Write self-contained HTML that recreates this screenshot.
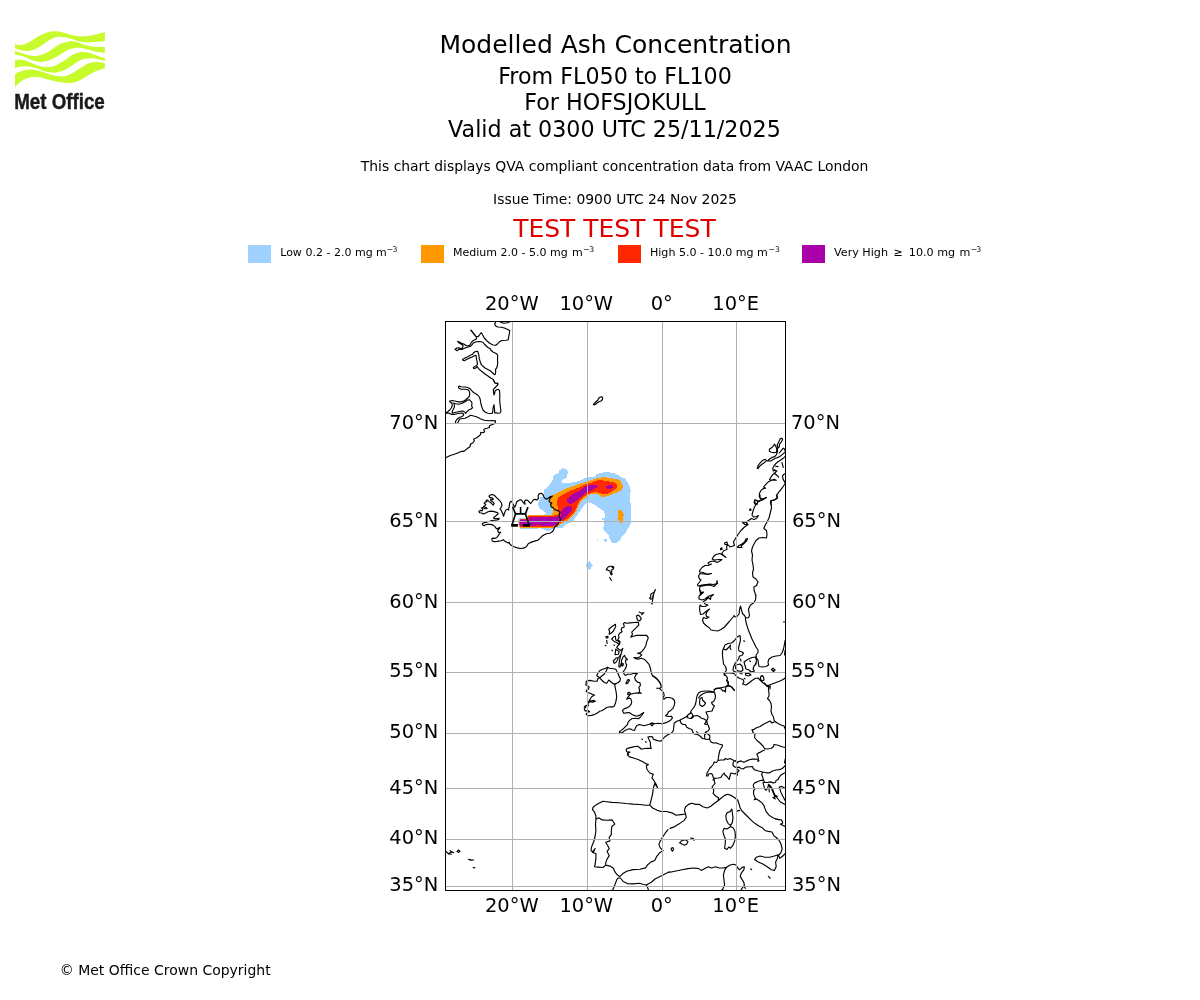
<!DOCTYPE html>
<html><head><meta charset="utf-8"><title>Modelled Ash Concentration</title>
<style>
html,body{margin:0;padding:0;background:#fff;}
body{width:1200px;height:1000px;overflow:hidden;position:relative;font-family:"DejaVu Sans","Liberation Sans",sans-serif;}
svg{position:absolute;left:0;top:0;}
text{font-family:"DejaVu Sans","Liberation Sans",sans-serif;fill:#000;}
.t1{font-size:25px;text-anchor:middle;}
.t2{font-size:22.22px;text-anchor:middle;}
.t3{font-size:13.89px;text-anchor:middle;}
.tk{font-size:19.44px;text-anchor:middle;}
.lg{font-size:11.02px;}
.sup{font-size:7.78px;}
</style></head><body>
<svg width="1200" height="1000" viewBox="0 0 1200 1000">
<!-- LOGO -->
<g id="logo">
<path fill="#c8fb2c" d="M14.98,44.25C16.03,44.39 19.22,45.29 21.31,45.06C23.39,44.83 25.44,43.87 27.51,42.89C29.58,41.91 31.64,40.41 33.71,39.17C35.78,37.93 37.85,36.53 39.92,35.44C41.98,34.36 44.05,33.36 46.12,32.65C48.19,31.95 50.25,31.43 52.32,31.23C54.39,31.02 56.55,31.17 58.53,31.41C60.51,31.65 62.22,32.08 64.20,32.65C66.18,33.22 68.34,34.26 70.41,34.82C72.47,35.39 74.54,35.81 76.61,36.06C78.68,36.32 80.75,36.43 82.81,36.37C84.88,36.32 86.95,36.06 89.02,35.75C91.09,35.44 93.15,34.98 95.22,34.51C97.29,34.05 99.82,33.38 101.42,32.96C103.03,32.55 104.27,32.19 104.84,32.03L104.84,41.34C104.27,41.37 103.03,41.42 101.42,41.52C99.82,41.63 97.29,41.83 95.22,41.96C93.15,42.08 91.09,42.27 89.02,42.27C86.95,42.27 84.88,42.22 82.81,41.96C80.75,41.70 78.68,41.29 76.61,40.72C74.54,40.15 72.47,39.11 70.41,38.55C68.34,37.98 66.18,37.59 64.20,37.31C62.22,37.02 60.51,36.60 58.53,36.81C56.55,37.02 54.39,37.64 52.32,38.55C50.25,39.46 48.19,40.92 46.12,42.27C44.05,43.61 41.98,45.37 39.92,46.61C37.85,47.85 35.78,48.97 33.71,49.71C31.64,50.46 29.58,50.97 27.51,51.08C25.44,51.18 23.39,50.79 21.31,50.33C19.22,49.88 16.03,48.68 14.98,48.35ZM14.98,50.64C16.03,51.06 19.22,52.40 21.31,53.12C23.39,53.85 25.44,54.52 27.51,54.99C29.58,55.45 31.64,55.86 33.71,55.92C35.78,55.97 37.85,55.76 39.92,55.30C41.98,54.83 44.05,54.16 46.12,53.12C48.19,52.09 50.25,50.49 52.32,49.09C54.39,47.70 56.55,45.83 58.53,44.75C60.51,43.66 62.22,43.15 64.20,42.58C66.18,42.01 68.34,41.44 70.41,41.34C72.47,41.23 74.54,41.49 76.61,41.96C78.68,42.42 80.75,43.46 82.81,44.13C84.88,44.80 86.95,45.52 89.02,45.99C91.09,46.46 93.15,46.73 95.22,46.92C97.29,47.11 99.82,47.08 101.42,47.11C103.03,47.14 104.27,47.11 104.84,47.11L104.84,52.81C104.27,52.76 103.03,52.71 101.42,52.50C99.82,52.30 97.29,52.04 95.22,51.57C93.15,51.11 91.09,50.28 89.02,49.71C86.95,49.14 84.88,48.47 82.81,48.16C80.75,47.85 78.68,47.70 76.61,47.85C74.54,48.01 72.47,48.42 70.41,49.09C68.34,49.76 66.27,50.75 64.20,51.88C62.14,53.02 59.46,55.04 58.00,55.92C56.54,56.79 56.89,56.43 55.42,57.16C53.96,57.88 51.29,59.48 49.22,60.26C47.15,61.03 45.09,61.60 43.02,61.81C40.95,62.02 38.88,61.86 36.81,61.50C34.75,61.14 32.68,60.41 30.61,59.64C28.54,58.86 26.27,57.57 24.41,56.85C22.55,56.12 21.02,55.66 19.44,55.30C17.87,54.93 15.72,54.78 14.98,54.67ZM14.98,60.26C15.52,60.15 16.63,59.64 18.20,59.64C19.78,59.64 22.34,59.79 24.41,60.26C26.47,60.72 28.54,61.60 30.61,62.43C32.68,63.26 34.75,64.50 36.81,65.22C38.88,65.94 40.95,66.46 43.02,66.77C45.09,67.08 47.15,67.29 49.22,67.08C51.29,66.88 53.96,66.05 55.42,65.53C56.89,65.01 56.54,64.81 58.00,63.98C59.46,63.15 62.14,61.86 64.20,60.57C66.27,59.28 68.34,57.47 70.41,56.23C72.47,54.99 74.54,53.82 76.61,53.12C78.68,52.43 80.75,52.12 82.81,52.07C84.88,52.02 86.95,52.33 89.02,52.81C91.09,53.30 93.15,54.26 95.22,54.99C97.29,55.71 99.82,56.64 101.42,57.16C103.03,57.67 104.27,57.93 104.84,58.09L104.84,61.19C104.27,60.98 103.03,60.36 101.42,59.95C99.82,59.53 97.29,58.97 95.22,58.71C93.15,58.45 91.09,58.29 89.02,58.40C86.95,58.50 84.88,58.66 82.81,59.33C80.75,60.00 78.68,61.24 76.61,62.43C74.54,63.62 72.47,65.17 70.41,66.46C68.34,67.75 66.27,69.25 64.20,70.18C62.14,71.11 59.46,71.63 58.00,72.04C56.54,72.46 56.89,72.61 55.42,72.67C53.96,72.72 51.29,72.67 49.22,72.35C47.15,72.04 45.09,71.48 43.02,70.80C40.95,70.13 38.88,68.99 36.81,68.32C34.75,67.65 32.68,67.13 30.61,66.77C28.54,66.41 26.27,66.15 24.41,66.15C22.55,66.15 21.02,66.41 19.44,66.77C17.87,67.13 15.72,68.06 14.98,68.32ZM14.98,74.53C15.52,74.16 16.63,73.08 18.20,72.35C19.78,71.63 22.34,70.67 24.41,70.18C26.47,69.70 28.54,69.44 30.61,69.44C32.68,69.44 34.75,69.75 36.81,70.18C38.88,70.62 40.95,71.37 43.02,72.04C45.09,72.72 47.15,73.60 49.22,74.22C51.29,74.84 53.96,75.46 55.42,75.77C56.89,76.08 56.54,75.97 58.00,76.08C59.46,76.18 62.14,76.70 64.20,76.39C66.27,76.08 68.34,75.20 70.41,74.22C72.47,73.23 74.54,71.79 76.61,70.49C78.68,69.20 80.75,67.65 82.81,66.46C84.88,65.27 86.95,64.08 89.02,63.36C91.09,62.64 93.15,62.27 95.22,62.12C97.29,61.96 99.82,62.27 101.42,62.43C103.03,62.58 104.27,62.95 104.84,63.05L104.84,68.32C104.27,68.48 103.03,68.74 101.42,69.25C99.82,69.77 97.29,70.49 95.22,71.42C93.15,72.35 91.09,73.60 89.02,74.84C86.95,76.08 84.88,77.73 82.81,78.87C80.75,80.01 78.68,80.99 76.61,81.66C74.54,82.33 72.47,82.72 70.41,82.90C68.34,83.08 66.70,82.97 64.20,82.71C61.71,82.46 57.92,81.84 55.42,81.35C52.93,80.86 51.29,80.37 49.22,79.80C47.15,79.23 45.09,78.40 43.02,77.94C40.95,77.47 38.88,77.11 36.81,77.01C34.75,76.90 32.68,76.90 30.61,77.32C28.54,77.73 25.96,78.82 24.41,79.49C22.86,80.16 22.34,80.63 21.31,81.35C20.27,82.07 19.26,82.90 18.20,83.83C17.15,84.76 15.52,86.42 14.98,86.93Z"/>
<text x="14.2" y="108.8" textLength="90.6" lengthAdjust="spacingAndGlyphs" style="font-family:'Liberation Sans',sans-serif;font-weight:bold;font-size:22.3px;fill:#1a1a1a;stroke:#1a1a1a;stroke-width:0.45px">Met Office</text>
</g>
<!-- /LOGO -->
<!-- TITLES -->
<text class="t1" x="615.5" y="53">Modelled Ash Concentration</text>
<text class="t2" x="615" y="83.8">From FL050 to FL100</text>
<text class="t2" x="615" y="110">For HOFSJOKULL</text>
<text class="t2" x="614.5" y="136.5">Valid at 0300 UTC 25/11/2025</text>
<text class="t3" x="614.6" y="171" style="font-size:13.92px">This chart displays QVA compliant concentration data from VAAC London</text>
<text class="t3" x="615" y="204">Issue Time: 0900 UTC 24 Nov 2025</text>
<text class="t1" x="614.4" y="237" style="fill:#e00000">TEST TEST TEST</text>
<!-- LEGEND -->
<g shape-rendering="crispEdges">
<rect x="248" y="245" width="23" height="18" fill="#a0d2ff"/>
<rect x="421" y="245" width="23" height="18" fill="#ff9900"/>
<rect x="618" y="245" width="23" height="18" fill="#ff2800"/>
<rect x="802" y="245" width="23" height="18" fill="#aa00aa"/>
</g>
<text class="lg" x="280.2" y="256">Low 0.2 - 2.0 mg m<tspan class="sup" dy="-4">−</tspan><tspan class="sup" dx="-0.8">3</tspan></text>
<text class="lg" x="453" y="256">Medium 2.0 - 5.0 mg <tspan dx="0.7">m</tspan><tspan class="sup" dy="-4" dx="0.6">−</tspan><tspan class="sup" dx="-0.6">3</tspan></text>
<text class="lg" x="649.95" y="256" style="font-size:11.09px">High 5.0 - 10.0 mg m<tspan class="sup" dy="-4" dx="0.6">−</tspan><tspan class="sup" dx="0">3</tspan></text>
<text class="lg" x="834" y="256" style="font-size:11.16px">Very High <tspan dx="2">≥</tspan><tspan dx="2.4"> 10.0 mg </tspan><tspan dx="0.7">m</tspan><tspan class="sup" dy="-4" dx="0.3">−</tspan><tspan class="sup" dx="-0.8">3</tspan></text>
<!-- MAP -->
<g id="map">
<clipPath id="ax"><rect x="445.5" y="321.5" width="340" height="568.8"/></clipPath>
<g clip-path="url(#ax)">
<!-- CONTOURS -->
<g id="plume" shape-rendering="crispEdges">
<path fill="#a0d2ff" d="M518.8,518.4 527.5,518.1 528.8,514.7 543.8,514.5 547.1,514.1 543.3,511.0 539.5,508.2 538.1,505.3 538.1,502.5 539.5,499.6 539.5,497.3 544.2,496.8 544.2,493.0 544.2,489.7 548.0,486.3 550.4,483.5 552.3,480.2 553.7,475.9 555.2,474.5 558.0,474.0 559.4,470.2 563.2,468.1 566.6,469.2 568.0,472.6 566.6,475.4 566.6,477.8 562.3,479.9 561.3,482.1 563.2,483.0 571.8,482.5 579.4,481.1 583.2,478.7 587.0,477.6 594.6,477.0 596.5,474.5 600.3,472.9 606.0,472.1 613.6,472.9 617.4,474.5 620.2,476.8 625.0,478.3 627.8,482.5 629.7,486.3 630.9,491.1 629.6,495.8 629.7,500.6 630.9,504.4 630.7,512.0 630.9,521.5 630.2,525.3 626.9,530.0 625.0,533.8 621.2,537.6 619.8,540.5 616.4,542.6 611.7,542.6 609.8,538.6 608.4,534.8 605.0,531.9 603.1,528.1 604.1,524.3 604.1,520.5 602.2,519.6 602.2,518.2 605.0,517.7 605.0,513.9 603.6,511.0 600.3,509.1 596.5,505.8 591.7,503.4 588.4,502.2 587.0,502.2 585.1,504.4 581.3,509.1 579.4,512.5 575.6,516.7 573.7,520.5 571.8,522.4 567.0,523.9 565.1,525.8 563.2,527.7 558.5,528.1 553.7,528.6 549.9,530.5 546.1,530.8 543.3,528.6 535.7,528.3 543.8,529.1 520.6,528.9 518.1,525.6 517.8,521.2ZM604.1,539.1 606.5,539.1 606.9,541.9 604.6,541.9ZM597.0,540.0 597.9,540.0 597.9,541.0 597.0,541.0ZM586.2,564.0 589.4,561.0 592.9,565.5 589.4,570.0 586.2,567.0Z"/>
<path fill="#ff9900" d="M518.8,522.5 520.0,518.6 526.2,518.5 528.1,514.8 551.9,514.8 551.8,514.8 553.3,511.0 552.3,508.2 550.4,504.4 549.9,499.6 550.9,496.8 553.7,494.4 558.5,492.5 563.2,489.7 568.0,487.8 572.7,486.3 577.5,484.4 581.3,483.0 587.0,481.9 591.7,479.9 596.5,478.3 604.1,477.0 611.7,478.3 617.4,479.2 620.2,480.6 622.1,483.5 622.9,486.3 622.1,489.2 619.3,491.6 615.5,493.0 611.7,494.9 606.0,496.3 603.1,497.7 600.3,495.8 596.5,493.9 592.7,493.5 588.4,494.9 587.0,496.8 583.2,499.6 580.3,502.5 578.4,506.3 576.5,511.0 573.7,514.8 570.8,517.7 568.0,520.5 565.1,522.4 562.3,522.9 559.4,525.3 557.5,527.2 552.8,527.7 553.8,528.2 529.4,528.2 520.0,527.9 518.8,525.0ZM618.3,510.1 621.2,510.1 624.0,514.4 622.6,518.2 622.6,521.0 621.7,523.9 619.8,522.9 618.8,520.5 617.2,518.6 618.2,515.8Z"/>
<path fill="#ff2800" d="M519.2,522.5 520.3,519.4 527.5,519.4 528.4,515.8 551.9,515.8 552.8,515.8 558.5,514.4 558.5,511.0 557.5,506.3 557.1,501.5 558.0,497.7 561.3,495.4 566.1,493.0 570.8,490.6 575.6,488.7 580.3,486.8 584.1,484.9 587.0,483.5 591.7,482.5 596.5,480.6 600.3,479.9 606.0,481.1 613.6,482.1 616.4,484.0 617.6,486.8 615.5,489.2 611.7,491.6 607.9,493.5 602.2,493.9 598.4,492.5 594.6,492.2 590.8,493.0 587.9,494.4 585.1,495.8 582.2,498.7 579.4,501.5 577.5,505.3 575.6,510.1 572.7,513.9 569.9,516.7 566.1,519.6 562.3,521.5 558.5,523.9 556.6,525.8 552.8,526.4 553.1,527.4 529.4,527.4 520.6,527.2 519.2,525.0Z"/>
<path fill="#aa00aa" d="M519.5,522.8 520.6,520.2 528.8,520.2 529.4,516.9 556.2,516.8 558.5,515.8 560.4,516.7 560.9,512.0 563.2,508.7 567.0,506.3 570.8,505.8 572.0,508.2 571.8,511.0 568.9,513.9 566.1,516.7 563.2,519.6 561.3,520.5 558.5,522.9 555.6,525.3 551.8,525.8 552.5,526.1 541.2,526.1 541.2,525.0 536.2,525.0 536.2,526.1 521.2,526.1 519.5,524.7ZM566.1,501.1 569.9,496.3 574.6,493.0 579.4,490.6 583.2,487.8 587.0,485.4 591.7,484.9 596.5,485.4 597.9,486.8 594.6,488.7 590.8,490.6 587.0,492.5 583.2,494.9 580.3,497.7 576.5,500.6 572.7,503.4 568.9,503.9ZM606.0,486.3 608.8,484.9 612.6,485.6 613.1,487.3 610.7,488.7 606.9,489.0Z"/>
</g>
<!-- /CONTOURS -->
<!-- COAST -->
<g id="coast" fill="none" stroke="#000" stroke-width="1.15" stroke-linejoin="round" stroke-linecap="round">
<path d="M500.3,322.0 503.7,323.3 507.7,322.8 509.3,321.9M495.7,321.7 494.7,324.0 495.7,326.0 497.7,327.0 501.7,327.2 505.0,328.3 508.3,329.7 509.7,330.7 509.3,334.0 508.7,336.7 508.3,339.7 506.3,340.3 501.7,340.5 499.7,341.7 497.7,343.7 495.7,345.3 493.0,345.0 489.7,343.3 487.0,341.0 484.3,338.0 482.7,335.0 481.3,332.7 480.3,333.7 479.0,335.7 477.7,336.7 475.7,336.3 470.7,330.1 471.5,330.5 476.5,337.2 476.3,339.0 474.3,340.0 472.3,341.3 471.0,343.0 470.0,345.0 468.3,345.7 466.3,345.7 464.3,344.3 461.7,343.3 457.7,341.3 458.7,342.7 461.0,344.0 463.0,345.3 462.7,347.3 461.7,348.8 459.0,347.7 456.7,348.0 455.1,349.3 457.0,350.7 459.0,349.3 462.3,349.3 465.0,348.0 468.3,347.0 471.0,346.0 472.3,344.3 473.7,342.7 476.3,341.7 479.7,341.5 483.0,342.3 484.3,344.0 486.3,346.0 488.3,347.7 490.3,348.8 491.0,350.3 493.0,352.0 495.0,353.0 497.0,354.0 497.7,356.0 497.5,360.0 497.7,362.7 497.3,366.0 496.7,368.0 495.5,369.3 495.7,372.0 495.3,374.3 494.3,374.7 492.7,373.0 491.0,371.3 488.3,369.7 485.0,368.0 483.0,366.3 481.3,364.7 480.3,362.0 479.3,358.7 478.7,354.7 478.0,352.0 477.0,351.2 475.0,351.7 473.3,353.0 472.7,354.3 470.3,355.3 467.7,356.7 465.0,358.0 462.5,359.5 462.9,360.3 464.3,360.7 467.0,359.3 469.7,357.9 472.3,357.0 474.3,355.7 476.0,355.3 476.3,357.3 476.7,360.0 477.3,362.7 477.5,364.3 476.3,365.7 474.3,366.7 473.3,367.7 474.0,368.7 475.7,368.0 477.3,366.7 478.3,368.3 479.7,369.7 482.3,371.7 485.0,374.0 488.3,376.3 491.0,378.3 493.3,379.3 494.0,381.3 495.0,383.0 497.7,383.3 497.7,385.0"/>
<path d="M493.3,380.0 494.0,381.3 495.0,383.0 497.7,383.3 497.7,384.7 496.3,386.3 494.7,388.0 493.3,389.3 493.5,392.0 494.0,395.0 494.7,393.3 495.0,391.0 496.7,389.7 498.3,389.3 499.5,390.7 499.8,394.7 499.7,400.0 500.0,404.0 500.5,408.0 500.9,411.3 500.0,413.0 498.0,413.3 496.3,412.7 494.7,413.0 494.5,409.3 494.0,404.7 493.1,408.0 492.5,413.3 491.0,413.5 487.7,413.3 485.0,412.0 483.0,410.0 481.7,406.7 480.7,402.7 480.2,399.3 479.3,397.0 477.7,395.0 475.7,393.7 473.3,392.3 471.7,390.7 470.0,388.7 468.3,387.7 465.7,387.0 463.0,387.0 461.0,386.7 459.3,386.1 458.3,387.0 459.0,388.3 461.0,389.2 465.0,389.3 468.0,389.7 469.3,391.3 469.8,394.0 469.3,396.3 467.7,398.0 465.7,399.7 463.7,401.0 461.0,401.9 458.3,401.9 455.7,401.2 452.3,400.5 449.7,401.0 450.0,402.0 451.7,403.0 452.3,405.3 451.3,408.0 449.7,410.0 447.7,411.7 445.3,413.0M453.0,403.0 455.7,403.7 459.0,404.3 462.3,403.3 465.0,401.7 467.7,400.0 469.3,399.7 471.0,401.3 472.0,403.0 471.7,406.0 472.5,407.7 471.0,409.0 468.7,410.0 467.0,411.7 465.7,413.3 464.7,412.0 462.7,411.0 460.3,411.2 457.0,412.0 453.7,412.7 452.3,413.0 452.2,411.3 453.3,409.3 454.3,407.3 454.3,405.0 454.0,403.3 453.0,403.0M445.3,413.1 448.3,413.0 451.3,414.3 455.0,414.3 459.0,413.3 462.0,413.0 463.7,414.0 463.3,415.7 461.3,416.7 459.0,417.7 457.0,419.3 455.7,421.0 455.3,423.0 456.5,423.5 457.7,423.0 458.7,420.7 460.0,419.0 462.3,418.5 465.0,418.3 467.7,417.0 470.7,415.3 473.7,416.0 477.0,417.0 480.3,418.7 484.3,420.3 488.3,420.8 493.0,420.5 495.5,420.7 495.3,422.3 493.7,424.0 491.0,425.0 489.3,426.0 489.5,427.5 487.0,428.3 484.3,429.0 483.7,430.0 484.7,431.7 483.0,432.7 480.7,432.3 480.7,434.3 479.0,436.0 476.3,438.0 473.7,439.0 474.3,441.0 473.0,442.7 470.7,444.0 470.3,445.0"/>
<path d="M470.3,445.0 470.0,446.7 467.7,448.3 465.7,449.9 464.0,451.3 461.7,451.3 458.3,452.7 454.3,454.3 450.3,455.5 447.7,456.7 445.3,457.9"/>
<path d="M535.0,499.4 533.5,499.7 531.9,502.0 530.6,503.6 529.3,502.0 527.7,500.4 525.7,500.0 524.5,501.3 525.1,504.3 523.1,502.3 521.5,500.0 520.2,499.7 518.2,500.7 516.6,502.0 515.8,504.9 514.8,507.2 513.4,504.9 512.1,502.0 510.8,501.3 509.8,502.6 509.1,506.9 508.5,510.1 507.2,509.1 505.6,510.4 504.3,513.7 503.6,516.3 502.6,513.4 501.3,510.4 500.0,508.8 501.0,507.5 502.0,505.2 501.3,502.6 499.1,500.0 496.8,497.8 494.5,495.5 492.6,494.6 490.3,495.0 489.0,496.1 489.6,497.4 491.9,497.8 493.5,499.1 492.2,499.7 490.6,499.1 490.9,500.7 492.9,502.0 494.2,503.3 493.2,505.2 491.9,503.9 490.6,502.6 489.3,502.0 487.7,500.0 486.1,500.4 487.0,501.7 485.4,502.0 484.1,503.3 485.7,504.3 484.8,505.6 483.5,506.5 486.1,507.5 487.0,508.5 485.1,508.8 482.8,507.5 481.5,507.8 482.8,509.5 482.2,510.8 480.2,510.4 478.9,511.4 479.6,512.7 481.5,513.0 483.5,514.0 485.7,513.0 488.0,511.7 490.6,511.1 493.2,511.4 495.8,512.1 497.8,512.7 498.1,514.0 496.5,515.3 494.5,516.9 493.5,517.9 495.2,518.6 497.4,518.6 499.1,518.4 498.7,519.5 497.1,520.0 494.5,520.2 491.9,520.5 489.6,521.3 486.7,522.1 484.1,522.8 482.3,523.6 482.8,525.1 484.1,525.7 485.7,524.7 488.0,524.3 490.6,524.4 493.2,525.1 494.8,526.4 495.8,528.0 497.1,529.0 499.1,527.7 500.0,527.3 499.4,528.6 498.1,529.9 497.8,531.6 498.7,532.5 500.7,532.2 499.7,533.5 498.7,534.8 497.8,536.4 496.5,537.7 494.5,538.4 492.6,538.1 491.8,539.0 492.2,541.0 493.9,541.6 497.1,541.4 501.0,540.8 503.3,539.7 504.3,540.7 506.2,542.0 508.2,542.9 509.1,542.3 509.8,543.9 511.4,545.5 514.0,546.8 517.3,547.9 520.5,548.5 523.4,548.1 525.7,547.2 527.0,545.9 528.0,543.9 530.3,542.6 532.9,541.6 535.0,541.0"/>
<path d="M535.0,499.4 536.9,500.0 538.5,498.4 538.1,495.8 539.2,493.9 541.1,493.2 542.8,494.2 543.7,496.5 545.0,498.4 546.7,499.1 548.6,497.8 550.6,496.5 552.5,496.1 550.9,497.4 549.6,499.1 548.9,501.0 550.2,502.6 551.9,503.0 550.6,504.6 551.2,506.9 553.2,507.5 554.5,509.5 556.4,510.1 558.4,510.9 560.0,512.4 559.0,514.7 559.7,517.3 560.6,519.9 559.0,521.8 558.0,524.1 556.4,526.0 554.5,527.0 553.8,529.6 552.5,531.6 549.9,533.2 547.3,533.5 544.7,534.5 542.1,536.1 540.2,538.1 538.2,540.0 535.0,541.0"/>
<path d="M593.3,404.3 595.7,402.0 597.7,400.3 598.7,398.3 600.0,397.2 601.7,396.7 602.7,398.0 602.3,399.7 601.0,401.0 599.0,401.7 597.3,402.7 595.7,404.3 594.3,405.0 593.3,404.3"/>
<path d="M606.2,569.6 608.1,567.0 610.0,566.2 612.2,566.2 613.8,567.0 613.4,568.9 611.9,569.6 611.5,571.9 612.2,574.1 611.5,574.9 610.4,573.4 610.0,571.1 608.5,570.4 606.2,569.6M609.6,577.5 611.5,580.5M611.9,567.0 613.0,567.8M655.4,589.6 653.9,592.5 652.0,593.2 650.5,594.8 650.9,597.0 649.4,598.1 650.9,599.2 652.4,598.5 653.1,595.5 654.2,592.5 655.4,589.6M653.9,592.5 652.4,601.5M651.6,603.6 652.4,603.9"/>
<path d="M638.3,622.1 634.2,622.5 630.0,622.9 626.7,623.3 624.6,622.5 623.3,623.8 624.2,625.8 623.8,627.5 621.7,627.9 621.2,630.0 622.1,631.7 620.0,632.9 618.5,635.0 619.0,637.5 617.9,639.6 620.0,641.7 619.6,644.2 617.9,645.8 616.7,647.5 618.8,649.2 620.8,650.4 622.9,648.3 621.7,651.7 620.8,655.0 620.0,658.3 619.2,662.5 618.8,666.7 620.0,667.1 621.2,663.3 621.7,660.0 622.9,657.1 624.6,655.4 625.4,657.5 627.5,659.6 625.4,660.0 625.8,663.3 626.7,665.0 625.8,667.9 624.6,670.0 623.3,671.7 624.2,674.2 625.4,675.4 627.5,674.2 630.8,674.2 634.2,673.3 637.5,673.3 635.8,675.0 634.6,677.5 635.4,680.0 637.5,682.1 640.0,682.9 640.4,685.0M638.3,622.1 638.8,625.0 636.7,627.1 634.2,629.6 631.7,632.1 632.5,634.2 630.8,637.1 633.3,636.2 636.7,635.4 641.7,635.2 646.7,635.4 648.3,637.9 646.7,641.7 645.8,645.8 643.8,649.2 641.7,651.7 639.6,652.9 637.5,653.3 640.0,653.8 641.7,655.0 640.0,656.7 637.5,657.9 633.8,657.5 635.8,658.8 638.3,659.2 641.2,658.2 644.2,659.2 646.7,661.7 649.2,664.6 650.4,668.3 651.2,672.5 652.5,675.8 655.0,677.5 657.5,679.6 659.6,682.1 660.8,685.0M639.2,612.1 641.7,613.3 643.8,612.7 641.7,614.6M636.7,615.8 638.3,615.0 640.4,617.1 641.2,618.8 639.6,620.8 637.5,620.0 636.7,617.5 636.7,615.8M608.8,629.2 611.7,626.7 615.4,624.3 615.7,626.7 614.2,629.2 613.3,631.2 610.8,633.3 609.2,634.2 609.6,631.7 608.8,629.2M605.8,636.7 607.9,636.2 607.9,637.9 606.2,637.9 605.8,636.7M606.7,640.4 607.1,643.5M605.2,645.7 606.0,645.4M611.7,639.2 613.8,636.7 615.4,636.2 615.8,640.0 618.3,641.2 620.0,642.5 618.8,644.2 616.7,642.5 614.6,641.7 612.9,640.4 611.7,639.2M614.0,644.8 614.5,645.3M611.9,650.2 612.5,650.7M615.8,649.2 617.5,650.4 619.2,651.7 618.3,654.2 615.0,654.6 615.4,652.1 615.8,649.2M613.3,660.8 615.8,658.3 618.3,657.5 617.5,660.0 615.8,662.5 614.2,663.3 613.3,660.8M619.2,656.8 621.0,654.2M622.1,663.3 623.3,663.8 622.9,665.8 621.7,665.8 622.1,663.3M586.2,681.2 590.0,680.4 594.2,681.2 597.1,681.2 597.9,678.8 599.6,677.5 596.7,675.8 597.9,673.3 599.6,670.8 602.5,669.2 605.8,668.3 607.5,667.1 609.2,668.3 613.3,668.8 615.8,669.2 617.1,671.7 618.3,674.2 619.2,676.7 620.4,678.3 620.0,680.8 618.3,682.5 615.8,683.8M607.5,668.3 605.8,671.7 604.2,674.2 600.8,676.7 600.0,678.3 601.7,680.0 604.2,682.5 606.7,683.3 608.8,680.0 610.8,681.7 613.3,683.8 615.8,683.8"/>
<path d="M615.8,683.8 614.6,684.2 615.4,688.3 616.2,692.5 616.7,696.7 616.2,700.0 615.4,703.3 614.2,706.2 611.7,707.1 609.6,706.7 606.7,707.5 604.2,709.2 601.7,710.8 599.6,711.2 598.3,712.5 595.0,714.2 591.7,715.4 588.3,715.7 586.2,714.2 587.9,712.1 589.6,711.7 588.3,710.8 585.0,710.8 584.2,708.8 585.8,707.1 584.2,706.7 586.2,705.4 588.3,705.8 587.9,703.3 590.0,701.7 592.5,702.1 595.4,701.2 593.8,700.4 590.8,700.8 588.3,702.5 590.0,699.2 591.7,696.7 594.6,695.0 592.5,694.6 590.0,693.3 587.9,692.5 586.2,691.2 586.7,690.0 588.3,689.2 589.2,687.1 587.9,685.8 585.8,685.0 586.2,682.9 586.2,681.2M640.4,685.0 640.0,685.8 638.8,687.5 639.6,690.0 639.2,692.1 641.2,693.3 638.3,692.9 634.2,693.3 630.8,694.2 629.6,692.5 627.9,692.9 627.9,694.6 629.6,695.4 627.9,697.1 626.7,699.2 629.2,697.9 630.8,698.8 631.7,701.7 631.2,704.2 629.6,706.2 626.7,707.9 623.3,709.2 622.5,710.8 623.8,713.3 626.2,712.9 629.2,712.5 631.7,714.2 634.2,715.4 636.7,716.2 639.2,715.4 641.7,713.8 643.8,712.5 642.1,715.0 640.0,717.5 638.3,718.8 635.0,718.3 631.7,718.8 629.6,720.4 627.9,722.5 627.5,724.6 625.4,726.7 623.3,728.8 621.2,730.4 619.2,731.7 619.8,732.7 622.5,732.5 625.0,730.4 627.5,729.2 630.0,728.8 632.5,730.0 634.6,730.4 635.4,727.9 636.7,725.8 639.2,724.6 641.7,725.0 644.2,725.8 646.7,725.0 649.2,724.2 651.7,722.9 653.3,724.2 652.1,725.8 650.8,724.6 651.7,722.9 655.0,723.8 658.3,723.3 662.1,723.8 665.0,722.9 668.3,721.7 670.8,720.0 672.5,717.9 671.2,716.2 668.3,716.5 665.4,715.7 667.5,714.2 668.3,712.1 670.8,710.4 672.9,708.3 674.2,705.4 674.8,702.5 674.2,700.0 672.1,698.3 669.2,697.5 666.2,697.5 663.8,699.2 662.5,697.9 664.2,695.8 663.8,693.3 662.5,691.2 660.8,689.6 659.2,688.3 656.7,688.2 659.6,688.3 661.2,687.5 660.8,684.2 659.2,681.7 657.5,679.2 655.0,677.1 652.5,675.8M627.5,693.8 628.8,692.1 630.4,693.3 629.6,695.0 627.9,694.6 627.5,693.8M625.8,683.3 627.9,679.6 629.6,680.0 628.3,682.5 626.7,683.8 625.8,683.3M628.3,755.0 627.9,753.3 630.0,752.1 626.7,751.7 626.2,750.0 626.7,748.8 629.2,747.9 632.5,747.1 635.0,746.5 637.5,746.2 639.6,747.5 641.2,749.2 643.3,748.8 646.7,748.3 651.2,748.3 650.4,745.8 650.4,742.5 649.2,740.0 647.9,737.1 650.0,736.5 652.5,736.7 653.3,739.2 656.7,740.4 660.0,741.2 662.1,740.4 663.3,738.3 665.0,736.7 668.3,734.6 671.2,733.3 673.3,730.8 673.8,726.7 674.2,723.3 676.7,721.2 680.0,720.4M641.8,739.0 642.5,739.5M645.4,741.8 646.3,742.3"/>
<path d="M757.2,468.2 758.4,465.0 760.4,462.6 762.8,460.2 765.2,459.4 766.8,460.6 764.4,462.6 762.0,464.2 759.6,466.2 758.0,468.6 757.2,468.2M769.6,449.0 771.6,447.8 773.2,446.2 774.4,444.2 775.6,445.8 776.8,449.0 776.4,452.2 774.0,452.6 771.2,452.2 769.2,451.0 769.6,449.0M777.2,445.0 778.8,441.8 780.4,438.6 782.0,438.2 782.6,439.8 781.2,442.2 779.6,444.2 779.2,447.0 778.0,448.2 777.2,445.0M767.6,461.0 769.6,459.0 772.0,457.4 774.8,456.6 776.4,454.6 777.6,451.4 777.2,448.2M767.6,461.0 770.8,461.0 773.2,459.4 775.6,458.2 778.0,457.4 781.2,455.4 783.6,453.4 785.0,452.2M779.2,453.0 781.2,450.6 783.2,448.2 784.4,449.0 785.0,450.6M785.0,456.6 782.8,458.6 780.4,460.2 778.0,461.8 775.6,463.8 774.0,465.8 772.8,468.2 773.2,471.0 774.8,469.8 776.4,471.4 774.8,473.0 773.2,474.2 771.6,476.2 770.0,478.6 769.6,479.8 772.4,480.2 776.4,480.2 774.0,479.4 771.6,480.2 768.4,481.8 766.0,484.2 763.6,487.0 765.6,488.2 763.2,488.6 761.2,490.2 759.6,493.0 759.2,496.2 760.4,498.6 762.8,499.4 766.4,497.4 763.6,499.4 760.4,500.6 757.6,501.4 755.6,499.8 754.0,502.2 755.6,505.0M775.6,466.2 778.0,466.6M774.8,470.6 777.2,471.0M774.0,473.0 778.0,476.2 778.4,477.4M782.0,462.6 783.2,467.4M785.0,473.8 783.6,474.6 782.4,476.2 783.2,479.4 785.0,482.6M785.0,483.8 782.0,488.2 778.8,492.2 776.4,495.4 777.2,498.2 774.0,500.2 770.8,500.6 770.4,503.0 771.6,505.0"/>
<path d="M755.6,505.0 756.0,504.5 754.5,507.0 753.0,511.0 752.0,515.0 753.5,517.0 756.5,516.5 758.5,515.5 756.5,518.5 754.0,519.5 751.5,518.5 748.5,520.5 746.0,522.5 748.0,524.5 744.5,527.0 741.0,530.5 738.0,534.5 735.5,538.5 733.5,542.0 734.5,545.5 730.0,547.0 728.5,545.0 726.5,546.0 727.0,549.5 724.0,550.5 722.0,553.0 723.0,555.0 726.0,557.5 722.5,555.0 720.0,553.5 716.0,554.5 713.5,556.5 712.2,559.0 714.5,560.0 719.0,559.5 722.0,559.5 719.0,561.5 717.0,562.5 714.0,561.0 710.5,561.5 708.0,563.0 709.5,565.0 711.5,564.0 708.0,565.5 705.0,565.5 702.0,567.5 700.0,570.0 699.5,572.0 703.0,572.5 707.0,574.0 711.5,573.5 708.0,574.5 704.0,574.0 700.0,573.5 698.5,576.0 699.5,579.0 701.0,580.0 699.5,582.0 697.5,584.5 698.0,586.0 702.0,585.0 706.0,584.5 710.0,584.0 713.0,584.5 717.5,583.5 717.0,580.5 716.5,584.0 714.0,586.5 710.0,585.0 705.0,585.5 700.0,586.5 699.5,589.5 700.5,592.0 703.0,592.5 701.0,593.5 700.5,595.0M760.0,495.0 760.0,498.0 762.0,499.0 766.5,497.5 764.0,499.0 760.0,500.5 758.0,502.0 755.6,505.0M754.5,500.0 758.0,501.0 757.0,504.5 755.0,503.0 754.5,500.0M742.5,522.5 746.0,522.0 748.0,524.5 745.0,524.5 742.5,522.5M737.0,547.5 739.0,545.5 742.0,544.0 744.5,542.0 746.0,539.0 747.5,538.5 746.5,541.0 744.0,543.5 741.0,546.0 742.0,547.5 738.0,547.5 737.0,547.5M724.5,543.0 727.0,542.0 727.5,544.5 725.0,544.5 724.5,543.0M720.5,548.5 721.8,547.8 722.2,549.5 720.8,549.8 720.5,548.5M749.7,509.5 750.7,508.8 751.0,510.2 749.8,510.5 749.7,509.5M777.0,495.0 777.5,498.0 775.0,499.5 771.5,500.5 771.0,504.0 771.5,508.0 770.0,514.0 769.0,518.0 767.0,522.0 765.0,525.5 763.8,528.5 766.5,530.5 767.0,534.5 766.5,538.0 763.0,537.5 759.0,538.0 756.0,540.5 754.0,544.0 752.5,547.0 751.5,551.0 752.5,555.0 752.0,560.0 753.0,565.0 753.5,569.0 752.5,573.0 753.0,577.0 756.0,579.0 758.0,582.0 756.5,585.5 754.0,587.0 754.0,590.0 755.0,593.0 755.5,595.0"/>
<path d="M700.5,595.0 700.0,590.0M700.5,595.0 701.0,592.5 703.5,592.0 701.5,594.0 699.0,596.0 699.0,599.0 702.0,600.0 705.0,599.0 709.0,596.0 713.5,594.5 711.0,596.5 710.5,599.5 708.5,597.5 706.0,600.0 703.5,601.5 705.0,604.0 708.0,605.0 705.0,606.5 702.0,606.5 700.0,605.0 699.5,608.0 700.0,612.0 700.5,614.5 703.0,614.0 706.0,611.5 709.5,609.0 707.0,611.5 706.0,614.5 706.5,616.5 709.0,617.0 706.5,618.5 703.5,617.5 702.5,620.0 703.5,623.0 706.0,625.5 709.0,627.5 711.0,630.0 714.0,630.5 717.5,631.0 721.0,629.5 724.5,627.0 728.0,623.0 731.0,619.5 733.5,616.5 734.0,615.5 735.0,617.0 737.0,616.5 739.0,614.0 739.5,610.0 740.5,606.0 741.5,610.0 742.5,613.5 744.5,615.5 745.5,617.5 745.5,620.0 746.5,624.0 748.0,629.0 750.0,634.0 752.0,639.0 754.0,643.0 756.0,647.0 758.0,650.0 758.0,652.5 756.0,655.0 756.5,658.0 758.0,660.0 758.5,664.0 759.0,666.5 762.0,667.0 766.0,666.5 768.5,665.0 768.0,662.0 769.0,659.0 772.0,657.0 776.0,656.0 780.0,655.5 782.0,653.0 783.5,649.0 784.5,644.0 785.2,640.0M755.5,595.0 756.0,595.0 755.5,600.0 753.5,603.0 750.5,605.0 748.5,609.0 749.0,612.5 749.5,616.0 748.0,618.0 745.5,617.5M783.5,622.0 785.2,622.0M784.5,655.0 785.2,650.0M771.5,669.5 773.0,668.2 775.0,670.0 773.5,671.5 771.5,669.5M740.0,635.5 737.0,637.0 734.5,640.5 731.5,643.0 728.0,643.5 725.0,645.0 723.5,648.5 722.5,651.0 722.5,656.0 723.0,660.0 723.5,664.0 725.5,666.5 726.5,670.0 725.0,672.5 724.0,675.0 726.5,676.0 727.5,678.5 726.5,680.5 728.0,683.0 728.5,686.0 732.0,687.0 734.0,690.0M723.5,649.0 726.0,650.0 728.5,647.5 730.5,645.0 730.0,648.0 731.0,649.5M740.0,635.5 740.5,640.0 739.5,644.0 738.5,648.0 739.0,651.0 742.0,652.0 743.5,653.0 742.0,655.5 739.5,656.0 738.5,659.0 737.0,661.0 735.0,663.5 733.5,667.0 733.0,670.0 734.0,671.5 737.0,672.0 740.0,673.0 742.0,674.0M736.0,665.0 740.0,664.0 742.0,666.0 743.0,670.0 741.0,671.5 737.0,670.5 735.5,668.0 736.0,665.0M744.0,662.0 747.5,659.5 752.0,657.5 755.5,657.0 756.5,660.0 756.0,664.0 754.0,666.0 753.0,669.0 754.5,671.0 751.0,672.0 749.0,670.0 746.0,669.0 745.0,665.5 744.0,662.0M745.5,673.5 749.0,673.5 751.0,675.0 748.0,676.0 745.5,675.0 745.5,673.5M743.7,640.8 744.5,641.3M740.5,659.0 741.0,661.2M749.8,660.8 750.4,661.6M755.5,663.3 755.8,664.2M725.0,673.0 730.0,673.0 734.0,673.5M734.0,673.5 737.0,677.0 740.0,678.5 743.0,679.5 744.0,682.0 742.5,684.0 746.0,685.0 749.0,683.0 752.0,680.5 755.0,678.5 758.0,678.0 760.0,680.0 762.0,682.0 764.0,683.5 766.0,685.0 768.0,685.5 772.0,684.0 776.0,682.5 780.0,681.0 783.0,679.5 785.2,678.0M744.3,678.3 745.0,678.9M760.5,677.0 762.0,675.5 763.5,677.0 764.0,680.0 762.0,681.0 760.5,679.0 760.5,677.0M764.5,683.0 767.0,686.0 770.0,686.5 770.0,689.0M724.0,673.2 725.2,674.8M728.5,686.0 727.0,686.5 722.0,687.5 717.0,688.5 714.0,689.5"/>
<path d="M727.0,680.0 728.5,682.0 728.0,685.0 726.0,686.5 725.5,689.5 725.5,692.0 724.0,690.5 722.5,691.0 721.5,689.0 718.0,688.0 715.5,688.5 714.0,691.0 714.0,692.5 712.0,691.5 709.0,691.0 705.0,691.0 701.0,691.5 698.5,693.0 697.0,696.0 696.5,698.5 696.0,702.0 695.0,705.5 693.0,708.5 691.0,711.0 690.5,713.0 688.0,715.0 686.0,717.0 683.0,718.5 680.0,720.0M728.0,685.0 731.0,686.5 733.0,689.0 734.5,690.5M698.5,698.0 700.0,696.0 702.5,694.0 706.0,692.5 710.0,692.0 714.0,692.5M700.0,698.5 702.0,697.5 702.5,700.0 704.0,701.5 705.5,703.0 704.5,705.0 702.0,706.5 700.0,705.0 699.5,702.5 700.0,698.5M687.0,716.0 689.0,714.0 691.5,713.0 693.0,715.5 691.0,718.5 688.0,718.0 687.0,716.0M714.5,692.5 715.5,696.0 715.0,699.0 713.5,701.5 711.5,702.5 712.5,704.5 714.5,706.0 713.0,708.5 712.0,711.0 708.5,711.5 706.0,712.0 707.0,714.5 708.0,716.5 707.5,719.5 706.5,720.5M691.5,718.5 694.0,716.0 697.0,715.5 699.5,716.5 701.0,718.0 704.0,719.0 706.5,720.5 705.5,723.0 704.5,724.0 706.5,724.5M706.5,720.5 707.5,724.0 708.5,726.0 709.5,729.0 708.0,731.0 705.5,732.0 705.0,734.5M680.0,720.0 681.0,723.0 683.0,724.5 685.5,724.5 686.5,727.0 689.0,728.5 692.0,729.5 693.0,732.5 694.5,734.0 697.5,734.5 700.0,736.0 702.5,738.5 705.0,739.0 704.5,735.5 705.0,734.0M696.5,731.8 697.7,732.2M705.0,734.5 706.5,733.0 708.5,734.5 710.0,736.0 709.5,739.0 707.0,739.5 705.0,739.0M709.5,739.0 711.0,742.0 713.0,743.0 716.0,742.8 719.0,744.0 722.5,745.0 722.0,747.0 720.0,750.0 719.0,754.0 718.5,757.0 718.0,760.5M718.0,760.5 721.0,760.0 724.0,760.0 725.5,758.5 727.5,759.5 730.0,758.5 732.0,759.5 734.0,760.5 736.0,761.0M734.0,761.0 733.0,763.0 733.0,765.5 735.0,767.0 736.0,767.5M718.0,760.5 716.5,762.5 714.0,762.0 713.5,764.0 711.5,766.5 709.5,768.5 708.5,770.5 707.0,773.0 706.5,776.0 708.0,776.0 708.5,774.0 711.0,773.5 712.5,774.5 713.0,777.0 714.5,778.5 713.0,780.0M714.5,778.5 718.0,778.0 721.0,777.5 722.0,775.5 724.0,773.0 725.0,775.0 727.0,776.5 728.0,778.0 729.2,779.5 730.0,776.0 731.0,773.0 733.0,773.5 735.0,774.0 736.5,773.0M775.0,721.5 774.0,722.0 772.0,723.0 770.0,721.0 768.0,722.0 764.0,724.0 760.0,726.5 756.0,728.0 753.0,730.0 752.0,729.5 753.0,732.5 755.0,734.5 754.5,737.5 757.0,740.5 760.0,743.0 763.0,746.0 764.5,748.5 767.0,749.0 771.0,748.5 773.5,746.5 774.0,744.5 777.0,745.0 780.0,746.0 783.0,747.0 785.2,747.5M768.5,686.0 768.5,689.5 769.0,693.0 769.0,696.0 767.5,698.5 769.5,700.5 771.0,703.5 771.5,707.0 771.0,711.0 772.0,714.5 773.5,717.0 774.0,720.0 775.0,721.5 778.0,723.5 781.0,725.0 784.0,726.0 785.2,729.0M765.0,684.0 767.0,686.5 770.0,687.0 770.0,685.5M785.2,759.0 784.5,763.0"/>
<path d="M713.8,779.2 715.0,783.4 712.0,787.0 713.8,790.0 713.2,793.6 715.6,796.0 718.6,797.8 718.0,800.8M670.0,828.4 674.8,826.6 679.6,823.6 683.8,820.6 686.2,817.6 685.6,814.0 684.4,810.4 685.6,806.8 688.6,804.4 691.6,803.2 695.8,804.4 699.4,804.4 703.0,806.8 707.2,808.0 710.8,806.2 714.4,803.2 718.0,800.8 721.6,797.8 724.6,795.4 727.6,794.2 731.2,795.4 734.8,797.8 737.8,800.2 739.0,803.8 740.2,808.0 742.0,811.0 745.0,814.0 748.0,817.0 751.6,820.6 755.2,823.6 758.8,826.0 762.4,827.8 765.4,830.8 768.4,831.4 772.0,832.0 773.8,835.6 776.8,838.0 779.2,840.4 781.0,844.0 782.2,848.8 781.0,852.4 778.6,855.4 779.8,858.4 782.8,856.0 785.2,853.6M670.0,812.2 673.0,813.4 676.0,815.2 680.8,814.6 685.6,814.0M775.6,819.0 777.4,819.4 781.6,820.0 782.8,823.0 780.4,824.2 785.2,826.6M779.2,787.0 781.6,786.4 785.2,788.2M779.2,787.0 781.0,792.4 783.4,797.2 785.2,800.8M775.6,796.0 780.4,802.0 785.2,804.6M731.8,809.2 732.4,812.8 733.0,817.6 732.4,822.4 730.6,825.4 728.2,823.6 726.4,820.0 725.8,815.8 727.0,812.8 730.0,811.6 731.8,809.2M730.6,826.6 733.0,827.8 734.8,830.8 735.4,835.6 734.8,840.4 733.0,845.2 730.6,848.2 728.8,847.0 727.0,849.4 724.6,848.2 725.2,844.0 725.4,839.2 724.0,835.6 722.8,831.4 724.0,828.4 727.0,829.0 730.6,826.6M737.2,811.1 739.6,810.4M679.6,842.8 682.0,840.4 685.6,839.8 688.0,841.6 686.8,844.0 684.4,845.2 682.0,844.0 679.6,842.8M690.4,838.0 693.4,838.6 694.0,840.4M671.2,848.2 673.0,847.6 673.6,849.4 672.4,851.2 671.4,850.0 671.2,848.2M754.6,859.6 756.4,857.2 760.0,856.0 764.8,857.2 769.6,857.2 774.4,856.0 778.0,854.8 777.4,858.4 775.6,862.0 776.2,866.8 774.4,870.4 771.4,869.8 767.2,866.8 762.4,863.8 758.2,862.0 754.6,859.6M750.6,869.0 751.6,869.6M768.4,876.4 770.2,878.2M744.6,887.6 745.6,888.2M670.0,872.2 676.0,871.0 682.0,869.8 688.0,868.6 694.0,868.0 698.8,868.6 701.2,870.4 704.8,868.6 708.4,866.8 711.4,868.0 715.6,866.8 719.2,868.0 722.8,868.0 726.4,867.4 730.0,865.0 733.6,864.2 736.0,865.0 737.8,868.0 739.6,869.8 742.0,867.4 744.4,866.8 743.8,869.8 741.4,872.8 740.2,876.4 742.0,879.4 743.8,882.4 744.4,885.4 742.0,888.4 740.8,890.2M726.4,867.4 724.6,870.4 723.4,875.2 724.0,880.0 724.6,884.8 722.8,889.0 721.6,890.2"/>
<path d="M628.1,752.0 627.4,754.8 629.5,756.9 634.4,758.3 638.6,759.7 642.8,761.8 646.3,763.9 648.4,764.6 646.3,766.0 647.0,769.5 649.8,773.0 653.3,774.4 651.9,777.9 654.0,780.7 656.1,784.2 657.5,787.7 654.7,783.5 653.3,788.4 652.6,794.0 651.2,799.6 649.8,805.2M649.8,805.2 645.6,805.2 640.0,804.5 633.0,804.1 626.0,803.5 619.0,802.7 612.0,802.4 606.4,801.7 602.9,801.3 599.4,803.1 595.9,804.9 593.1,807.3 592.4,809.4 594.5,812.2 595.9,815.7 595.9,819.2 595.5,824.8 595.9,830.4 595.2,836.0 593.8,841.6 591.7,846.5 591.0,850.0 592.4,852.1 595.2,848.6 593.1,852.8 595.9,853.5 595.9,858.4 595.2,864.0 594.5,866.8 598.0,867.1 602.9,867.5 605.7,865.1 609.9,866.1 613.4,868.2 614.8,871.7 616.9,874.5 619.7,876.6 622.5,873.8 626.7,871.3 633.0,869.6 640.0,869.3 645.6,867.9 647.7,864.7 651.2,861.9 654.7,860.5 656.8,856.3 659.6,852.8 663.1,850.7 660.3,847.9 658.9,844.4 660.3,840.9 662.4,837.4 665.2,833.2 668.0,829.7M595.9,819.2 598.7,817.8 602.2,819.9 607.1,820.3 612.0,819.9 613.4,822.0 614.8,824.1 612.0,826.2 611.3,830.4 611.3,834.6 609.2,837.4 609.9,840.9 605.7,842.3 607.8,845.8 609.2,848.6 607.1,851.4 609.2,855.6 607.1,859.1 605.7,862.6 605.7,865.1M649.8,805.2 652.6,808.0 656.8,810.1 661.0,811.5 666.6,811.5 670.0,812.5M612.7,889.9 614.8,885.0 616.9,879.4 618.3,878.0 620.4,878.0 623.2,881.5 627.4,883.6 633.0,883.9 639.3,883.3 642.8,884.3 646.3,885.0 651.2,882.2 655.4,878.7 661.0,875.9 668.0,872.4 670.0,871.9M646.3,885.0 647.7,887.8 648.4,889.9"/>
<path d="M446.3,851.7 448.7,854.0 451.3,854.3M450.0,850.7 453.7,852.7M449.0,853.2 451.7,852.1M457.0,851.3 458.3,850.1 460.0,851.2 458.7,852.5 457.0,851.3M468.3,859.3 470.7,860.3 473.7,860.0 471.0,859.9 468.3,859.3M473.3,867.5 474.9,867.9 473.7,867.7"/>
<path d="M735.0,760.9 736.8,761.2 736.8,763.0 738.9,761.5 741.0,760.9 743.8,762.2 746.6,760.9 749.4,759.8 752.2,759.1 755.0,759.0 758.1,759.5 758.9,760.9 757.8,761.2 758.4,758.4 757.8,756.3 756.8,754.5 758.1,753.1 760.6,752.1 762.7,750.7 764.8,750.0M736.5,767.5 738.9,767.1 741.0,768.5 743.1,768.9 745.9,767.1 749.4,766.8 752.5,766.5 753.2,768.5 755.0,770.0 758.5,771.0 762.7,772.0 766.2,772.8 769.7,772.8 772.5,771.0 776.0,770.0 779.5,769.6 782.3,768.5 784.0,766.8 785.1,765.8M736.5,767.5 737.1,769.6 739.2,770.6 737.9,771.7 737.1,773.1 737.5,775.2M762.7,772.0 761.6,774.5 762.7,777.0 763.4,780.1 764.8,782.2 763.0,782.9 763.8,785.7 764.8,789.2 766.2,790.2 767.6,788.1 768.6,785.0M763.4,780.1 760.6,780.5 757.8,781.5 754.6,782.9 753.2,785.0 753.6,787.1 755.0,788.9 753.6,790.6 753.5,793.4 754.3,796.2 755.4,798.3 754.3,799.7 756.4,799.0 759.2,800.8 762.0,802.9 763.8,805.3 764.8,808.1 766.2,811.6 769.0,815.1 772.5,817.5 776.0,819.0 779.1,819.6M764.8,782.2 767.6,782.5 770.4,781.9 773.2,782.9 775.6,782.5 776.0,780.5 778.1,779.4 779.1,777.3 780.9,775.2 783.0,773.8 785.1,772.8M768.3,784.3 770.4,785.7 772.5,789.2 773.9,792.7 775.3,795.5 777.4,796.2 775.3,796.9 772.9,797.6 775.3,799.0M769.0,784.6 769.8,787.1 771.8,789.2 773.2,792.7 774.6,795.9M769.0,789.2 769.4,792.0"/>
</g>
<!-- /COAST -->
<g id="grid" fill="#b0b0b0" shape-rendering="crispEdges">
<rect x="512" y="321" width="1" height="570"/>
<rect x="587" y="321" width="1" height="570"/>
<rect x="662" y="321" width="1" height="570"/>
<rect x="736" y="321" width="1" height="570"/>
<rect x="445" y="886" width="341" height="1"/>
<rect x="445" y="839" width="341" height="1"/>
<rect x="445" y="788" width="341" height="1"/>
<rect x="445" y="733" width="341" height="1"/>
<rect x="445" y="672" width="341" height="1"/>
<rect x="445" y="602" width="341" height="1"/>
<rect x="445" y="521" width="341" height="1"/>
<rect x="445" y="423" width="341" height="1"/>
</g>
</g>
<rect x="445.5" y="321.5" width="340" height="569" fill="none" stroke="#000" stroke-width="1" shape-rendering="crispEdges"/>
<text class="tk" x="511.81" y="309.8">20°W</text>
<text class="tk" x="511.81" y="911.8">20°W</text>
<text class="tk" x="586.25" y="309.8">10°W</text>
<text class="tk" x="586.25" y="911.8">10°W</text>
<text class="tk" x="661.70" y="309.8">0°</text>
<text class="tk" x="661.70" y="911.8">0°</text>
<text class="tk" x="735.65" y="309.8">10°E</text>
<text class="tk" x="735.65" y="911.8">10°E</text>
<text class="tk" x="438.30" y="891.14" style="text-anchor:end">35°N</text>
<text class="tk" x="792.00" y="891.14" style="text-anchor:start">35°N</text>
<text class="tk" x="438.30" y="844.22" style="text-anchor:end">40°N</text>
<text class="tk" x="792.00" y="844.22" style="text-anchor:start">40°N</text>
<text class="tk" x="438.30" y="793.68" style="text-anchor:end">45°N</text>
<text class="tk" x="792.00" y="793.68" style="text-anchor:start">45°N</text>
<text class="tk" x="438.30" y="738.49" style="text-anchor:end">50°N</text>
<text class="tk" x="791.00" y="738.49" style="text-anchor:start">50°N</text>
<text class="tk" x="438.30" y="677.18" style="text-anchor:end">55°N</text>
<text class="tk" x="791.00" y="677.18" style="text-anchor:start">55°N</text>
<text class="tk" x="438.30" y="607.65" style="text-anchor:end">60°N</text>
<text class="tk" x="792.00" y="607.65" style="text-anchor:start">60°N</text>
<text class="tk" x="438.30" y="526.63" style="text-anchor:end">65°N</text>
<text class="tk" x="792.00" y="526.63" style="text-anchor:start">65°N</text>
<text class="tk" x="438.30" y="428.70" style="text-anchor:end">70°N</text>
<text class="tk" x="791.00" y="428.70" style="text-anchor:start">70°N</text>
<!-- VOLCANO -->
<g id="volcano" stroke="#000" stroke-width="1.6" fill="none" stroke-linecap="butt" stroke-linejoin="miter">
<path d="M511.9,525.2 L515.5,513.9 L525.4,513.9 L529.3,525.2"/>
<path d="M515.5,513.9 L512.7,506.9 M525.4,513.9 L528,507.1 M520.6,513.9 L520.6,506.9"/>
<path d="M511.2,525.35 H517.9 M523,525.35 H529.9" stroke-width="2.7"/>
</g>
</g>
<!-- FOOTER -->
<text class="t3" x="59.8" y="975" style="text-anchor:start;font-size:13.97px">© Met Office Crown Copyright</text>
</svg>
</body></html>
